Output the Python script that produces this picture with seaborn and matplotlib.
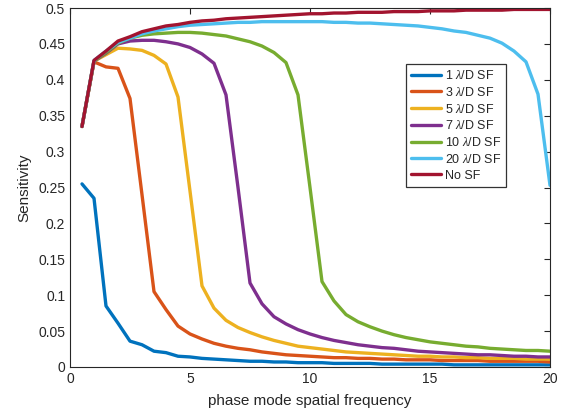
import numpy as np
import pandas as pd
import matplotlib
matplotlib.use("Agg")
import matplotlib.pyplot as plt
import seaborn as sns

freq = [0.5 * k for k in range(1, 41)]

sf1 = [0.255, 0.235, 0.085, 0.061, 0.036, 0.031, 0.022, 0.020, 0.015, 0.014,
       0.012, 0.011, 0.010, 0.009, 0.008, 0.008, 0.007, 0.007, 0.006, 0.006,
       0.006, 0.005, 0.005, 0.005, 0.005, 0.004, 0.004, 0.004, 0.004, 0.004,
       0.004, 0.003, 0.003, 0.003, 0.003, 0.003, 0.003, 0.003, 0.003, 0.003]
sf3 = [0.335, 0.425, 0.418, 0.416, 0.374, 0.240, 0.105, 0.080, 0.057, 0.046,
       0.039, 0.033, 0.029, 0.026, 0.024, 0.021, 0.019, 0.017, 0.016, 0.015,
       0.014, 0.013, 0.013, 0.012, 0.012, 0.011, 0.011, 0.010, 0.010, 0.010,
       0.009, 0.009, 0.009, 0.009, 0.008, 0.008, 0.008, 0.008, 0.008, 0.007]
sf5 = [0.335, 0.426, 0.435, 0.444, 0.443, 0.441, 0.434, 0.422, 0.376, 0.245,
       0.113, 0.082, 0.065, 0.055, 0.048, 0.042, 0.037, 0.033, 0.029, 0.027,
       0.025, 0.023, 0.021, 0.020, 0.019, 0.018, 0.017, 0.016, 0.015, 0.015,
       0.014, 0.014, 0.013, 0.013, 0.012, 0.012, 0.012, 0.011, 0.011, 0.011]
sf7 = [0.335, 0.426, 0.437, 0.450, 0.454, 0.455, 0.455, 0.453, 0.450, 0.445,
       0.436, 0.423, 0.379, 0.250, 0.117, 0.088, 0.070, 0.060, 0.052, 0.046,
       0.041, 0.037, 0.034, 0.031, 0.029, 0.027, 0.026, 0.024, 0.022, 0.021,
       0.020, 0.019, 0.018, 0.017, 0.017, 0.016, 0.015, 0.015, 0.014, 0.014]
sf10 = [0.335, 0.426, 0.438, 0.451, 0.458, 0.462, 0.464, 0.465, 0.466, 0.466,
        0.465, 0.463, 0.461, 0.457, 0.453, 0.447, 0.438, 0.424, 0.379, 0.250,
        0.119, 0.092, 0.073, 0.063, 0.056, 0.050, 0.045, 0.041, 0.038, 0.035,
        0.033, 0.031, 0.029, 0.028, 0.026, 0.025, 0.024, 0.023, 0.023, 0.022]
sf20 = [0.335, 0.427, 0.440, 0.452, 0.458, 0.464, 0.468, 0.471, 0.474, 0.476,
        0.477, 0.478, 0.479, 0.480, 0.480, 0.481, 0.481, 0.481, 0.481, 0.481,
        0.481, 0.480, 0.480, 0.479, 0.479, 0.478, 0.477, 0.476, 0.475, 0.473,
        0.471, 0.468, 0.466, 0.462, 0.458, 0.451, 0.440, 0.425, 0.380, 0.253]
nosf = [0.335, 0.427, 0.440, 0.454, 0.460, 0.467, 0.471, 0.475, 0.477, 0.480,
        0.482, 0.483, 0.485, 0.486, 0.487, 0.488, 0.489, 0.490, 0.491, 0.492,
        0.492, 0.493, 0.493, 0.494, 0.494, 0.494, 0.495, 0.495, 0.495, 0.496,
        0.496, 0.496, 0.497, 0.497, 0.497, 0.497, 0.498, 0.498, 0.498, 0.498]

labels = [r"1 $\lambda$/D SF", r"3 $\lambda$/D SF", r"5 $\lambda$/D SF",
          r"7 $\lambda$/D SF", r"10 $\lambda$/D SF", r"20 $\lambda$/D SF", "No SF"]
series = [sf1, sf3, sf5, sf7, sf10, sf20, nosf]
colors = ["#0072BD", "#D95319", "#EDB120", "#7E2F8E", "#77AC30", "#4DBEEE", "#A2142F"]

df = pd.DataFrame({
    "freq": np.tile(freq, len(series)),
    "sens": np.concatenate(series),
    "case": np.repeat(labels, len(freq)),
})

sns.set_style("white")
plt.rcParams["font.family"] = ["Liberation Sans", "DejaVu Sans"]
plt.rcParams["mathtext.fontset"] = "custom"
plt.rcParams["mathtext.it"] = "Liberation Serif:italic"
plt.rcParams["mathtext.rm"] = "Liberation Sans"

fig = plt.figure(figsize=(5.70, 4.17), dpi=100)
ax = fig.add_axes([70 / 570, 1 - 367 / 417, 480 / 570, 359 / 417])

sns.lineplot(data=df, x="freq", y="sens", hue="case", hue_order=labels,
             palette=colors, linewidth=2.4, ax=ax, legend=True)

ax.set_xlim(0, 20)
ax.set_ylim(0, 0.5)
ax.set_xticks([0, 5, 10, 15, 20])
ax.set_yticks(np.arange(0, 0.501, 0.05))
ax.set_yticklabels(["%g" % round(v, 2) for v in np.arange(0, 0.501, 0.05)])
dark = "#262626"
ax.tick_params(direction="in", length=4, width=0.8, colors=dark, labelsize=10,
               top=True, right=True, labelcolor=dark)
for sp in ax.spines.values():
    sp.set_color(dark)
    sp.set_linewidth(0.8)
ax.set_xlabel("phase mode spatial frequency", fontsize=11, color=dark, labelpad=6)
ax.set_ylabel("Sensitivity", fontsize=11, color=dark, labelpad=5)

leg = ax.legend(loc="upper right", bbox_to_anchor=(0.908, 0.844),
                borderaxespad=0, fontsize=9, frameon=True, fancybox=False,
                edgecolor="black", handlelength=2.4, handletextpad=0.3,
                labelspacing=0.3, borderpad=0.4)
leg.get_frame().set_linewidth(0.9)
for line in leg.get_lines():
    line.set_linewidth(2.4)

fig.savefig("out.png", dpi=100)
